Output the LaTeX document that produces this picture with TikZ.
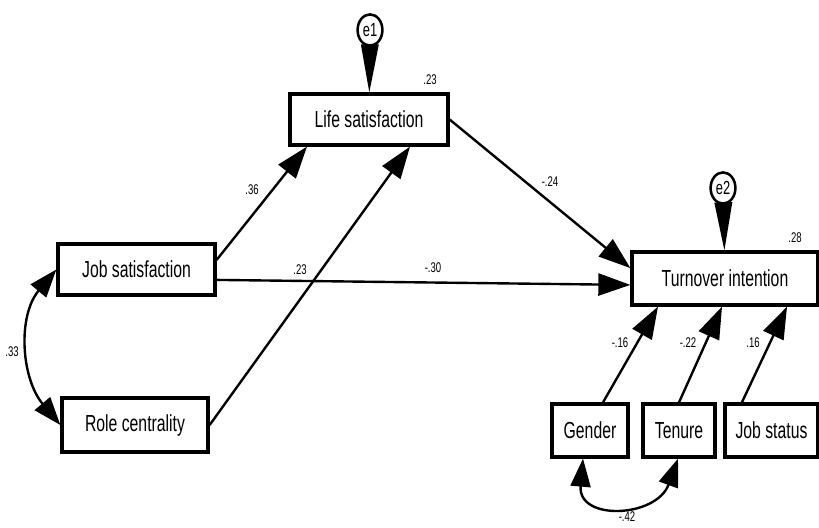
\documentclass[tikz,border=0pt]{standalone}
\usepackage{fontspec}
\setmainfont{Liberation Sans}[FakeStretch=0.68]
\usetikzlibrary{arrows.meta,shapes.geometric}
\begin{document}
\begin{tikzpicture}[x=0.025cm,y=-0.025cm,
    var/.style={draw,line width=2.3pt,minimum height=1.275cm,inner sep=0pt,font=\fontsize{16.5}{18}\selectfont},
    err/.style={draw,ellipse,line width=1.8pt,minimum width=0.62cm,minimum height=0.78cm,inner sep=0pt,font=\fontsize{13.5}{14}\selectfont},
    effect/.style={line width=1.7pt,-{Triangle[length=8mm,width=5.5mm]}},
    cov/.style={line width=1.7pt,{Triangle[length=7mm,width=5mm]}-{Triangle[length=7mm,width=5mm]}},
    resid/.style={line width=1pt,-{Triangle[length=1.2cm,width=4.4mm]}},
    coef/.style={font=\fontsize{10}{11}\selectfont,inner sep=0pt}]
  \useasboundingbox (0,0) rectangle (819,527);
  \node[var,minimum width=3.95cm] (life) at (369,119.5) {Life satisfaction};
  \node[var,minimum width=4.65cm,minimum height=1.325cm] (turn) at (725,278.5) {Turnover intention};
  \node[var,minimum width=3.925cm] (jobsat) at (136.5,269.5) {Job satisfaction};
  \node[var,minimum width=3.65cm,minimum height=1.35cm] (role) at (135,425) {Role centrality};
  \node[var,minimum width=1.9cm,minimum height=1.325cm] (gender) at (590,430.5) {Gender};
  \node[var,minimum width=1.8cm,minimum height=1.325cm] (tenure) at (679,430.5) {Tenure};
  \node[var,minimum width=2.325cm,minimum height=1.325cm] (jobstat) at (771.5,430.5) {Job status};
  \node[err] (e1) at (370,30) {e1};
  \node[err] (e2) at (723,188) {e2};

  \draw[resid] (e1) -- (life);
  \draw[resid] (e2) -- (turn);
  \draw[effect] ([yshift=0.24cm]jobsat.east) -- ([xshift=-1.55cm]life.south);
  \draw[effect] (role.east) -- ([xshift=1.025cm]life.south);
  \draw[effect] ([yshift=-0.26cm]jobsat.east) -- ([yshift=-0.16cm]turn.west);
  \draw[effect] (life.east) -- ([yshift=0.26cm]turn.west);
  \draw[effect] ([xshift=0.325cm]gender.north) -- ([xshift=-1.675cm]turn.south);
  \draw[effect] (tenure.north) -- ([xshift=-0.075cm]turn.south);
  \draw[effect] ([xshift=-0.74cm]jobstat.north) -- ([xshift=1.55cm]turn.south);
  \draw[cov] (jobsat.west) to[out=230,in=130] (role.west);
  \draw[cov] ([xshift=-0.175cm]gender.south) to[out=265,in=250,looseness=1.7] ([xshift=-0.025cm]tenure.south);

  \node[coef] (r2life) at (430,80) {.23};
  \node[coef] (r2turn) at (795,238) {.28};
  \node[coef] (bjl) at (252,190) {.36};
  \node[coef] (brl) at (300,270) {.23};
  \node[coef] (bjt) at (433,268) {-.30};
  \node[coef] (blt) at (550,182) {-.24};
  \node[coef] (cjr) at (12,352) {.33};
  \node[coef] (bgt) at (620,343) {-.16};
  \node[coef] (btt) at (688,343) {-.22};
  \node[coef] (bst) at (753,343) {.16};
  \node[coef] (cgt) at (627,517) {-.42};
\end{tikzpicture}
\end{document}
